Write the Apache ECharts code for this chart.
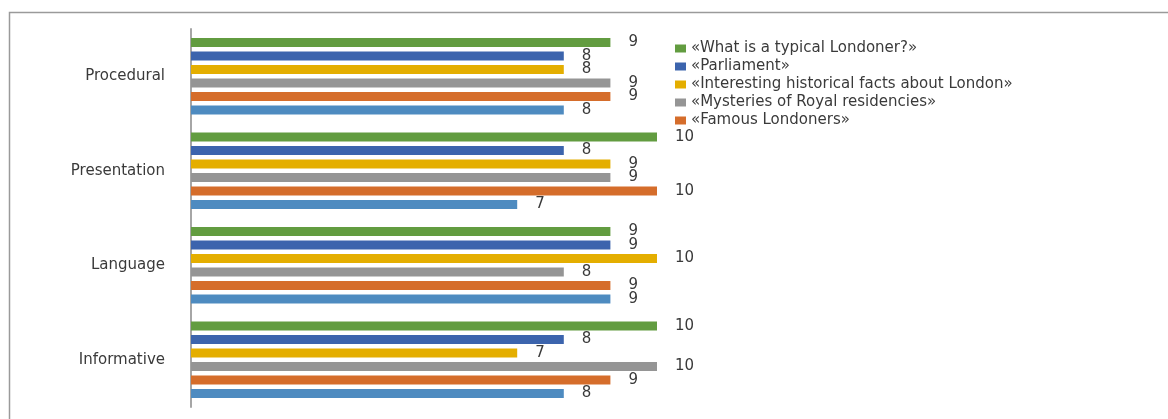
<!DOCTYPE html>
<html>
<head>
<meta charset="utf-8">
<script src="https://cdn.jsdelivr.net/npm/echarts@6/dist/echarts.min.js"></script>
<style>
html,body{margin:0;padding:0;background:#fff;}
#chart{width:1168px;height:419px;}
</style>
</head>
<body>
<div id="chart"></div>
<script>
const categories = ['Procedural', 'Presentation', 'Language', 'Informative'];
const seriesNames = [
  '«What is a typical Londoner?»',
  '«Parliament»',
  '«Interesting historical facts about London»',
  '«Mysteries of Royal residencies»',
  '«Famous Londoners»',
  'Series 6'
];
const typicalLondoner = [9, 10, 9, 10];
const parliament = [8, 8, 9, 8];
const historicalFacts = [8, 9, 10, 7];
const royalResidencies = [9, 9, 8, 10];
const famousLondoners = [9, 10, 9, 9];
const series6 = [8, 7, 9, 8];
const legendNames = seriesNames.slice(0, 5);

const colors = ['#629c40', '#3c64ad', '#e4ae00', '#959595', '#d56d2b', '#4e8bc0'];
const values = [typicalLondoner, parliament, historicalFacts, royalResidencies, famousLondoners, series6];

const chart = echarts.init(document.getElementById('chart'), null, {renderer: 'canvas'});
const FONT = 'DejaVu Sans';
chart.setOption({
  animation: false,
  backgroundColor: '#fff',
  color: colors,
  graphic: [{
    type: 'rect', left: 7, top: 10, silent: true,
    shape: {width: 1200, height: 500},
    style: {fill: 'none', stroke: '#9a9a9a', lineWidth: 1.5}
  }],
  grid: {left: 191, right: 511, top: 29, bottom: 12, containLabel: false},
  legend: {
    data: legendNames,
    orient: 'vertical',
    left: 670, top: 36,
    itemWidth: 11, itemHeight: 8, itemGap: 3,
    icon: 'rect',
    textStyle: {color: '#3a3a3a', fontSize: 15, fontFamily: FONT, padding: [0, 0, 0, 0]}
  },
  xAxis: {
    type: 'value', min: 0, max: 10,
    show: false, splitLine: {show: false}
  },
  yAxis: {
    type: 'category', data: categories, inverse: true,
    axisLine: {show: true, lineStyle: {color: '#a6a6a6', width: 2}},
    axisTick: {show: false},
    axisLabel: {color: '#3a3a3a', fontSize: 15, fontFamily: FONT, margin: 26}
  },
  series: values.map((v, i) => ({
    name: seriesNames[i],
    type: 'bar',
    data: v,
    barWidth: 9,
    barGap: '50%',
    itemStyle: {color: colors[i]},
    label: {
      show: true, position: 'right', distance: 18,
      color: '#3a3a3a', fontSize: 15, fontFamily: FONT
    }
  }))
});
</script>
</body>
</html>
